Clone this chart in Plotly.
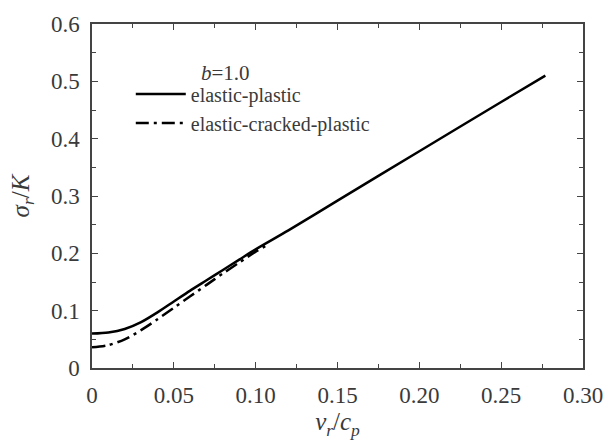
import plotly.graph_objects as go

# elastic-plastic curve
x_ep = [0.0, 0.01, 0.02, 0.03, 0.04, 0.05, 0.06, 0.07, 0.08, 0.09, 0.10, 0.12, 0.15, 0.20, 0.25, 0.277]
y_ep = [0.060, 0.062, 0.068, 0.080, 0.097, 0.116, 0.135, 0.153, 0.171, 0.189, 0.207, 0.240, 0.292, 0.378, 0.464, 0.510]

# elastic-cracked-plastic curve
x_ecp = [0.0, 0.01, 0.02, 0.03, 0.04, 0.05, 0.06, 0.07, 0.08, 0.09, 0.10, 0.108]
y_ecp = [0.036, 0.040, 0.050, 0.066, 0.085, 0.105, 0.125, 0.145, 0.165, 0.184, 0.203, 0.216]

x_ticks = [0, 0.05, 0.10, 0.15, 0.20, 0.25, 0.30]
x_tick_labels = ["0", "0.05", "0.10", "0.15", "0.20", "0.25", "0.30"]
y_ticks = [0, 0.1, 0.2, 0.3, 0.4, 0.5, 0.6]
y_tick_labels = ["0", "0.1", "0.2", "0.3", "0.4", "0.5", "0.6"]

FONT = "Liberation Serif"
TXT = "#3a3a3a"

fig = go.Figure()
fig.add_trace(go.Scatter(x=x_ep, y=y_ep, mode="lines", name="elastic-plastic",
                         line=dict(color="black", width=2.5, shape="spline", smoothing=0.8)))
fig.add_trace(go.Scatter(x=x_ecp, y=y_ecp, mode="lines", name="elastic-cracked-plastic",
                         line=dict(color="black", width=2.5, dash="13px,5px,3px,5px", shape="spline", smoothing=0.8)))

axis_common = dict(
    showgrid=False, zeroline=False, showline=True, linecolor="#444", linewidth=1.5,
    mirror="ticks", ticks="inside", ticklen=6, tickwidth=1.2, tickcolor="#444",
    tickfont=dict(family=FONT, size=23, color=TXT),
    ticklabelstandoff=6,
)

fig.update_xaxes(range=[0, 0.30], tickvals=x_ticks, ticktext=x_tick_labels,
                 title=dict(text="<i>v<sub>r</sub></i>/<i>c<sub>p</sub></i>",
                            font=dict(family=FONT, size=25, color=TXT), standoff=2),
                 minor=dict(ticks="inside", ticklen=4, tickcolor="#444", dtick=0.025),
                 **axis_common)
fig.update_yaxes(range=[0, 0.6], tickvals=y_ticks, ticktext=y_tick_labels,
                 title=dict(text="<i>σ<sub>r</sub></i>/<i>K</i>",
                            font=dict(family=FONT, size=25, color=TXT), standoff=14),
                 minor=dict(ticks="inside", ticklen=4, tickcolor="#444", dtick=0.05),
                 **axis_common)

fig.add_annotation(xref="paper", yref="paper", x=0.218, y=(370 - 66) / 354, xanchor="left", yanchor="middle",
                   text="<i>b</i>=1.0", showarrow=False,
                   font=dict(family=FONT, size=21, color=TXT))

fig.update_layout(
    width=615, height=440,
    margin=dict(l=92, r=27, t=16, b=70),
    plot_bgcolor="white", paper_bgcolor="white",
    font=dict(family=FONT),
    showlegend=True,
    legend=dict(x=0.079, y=(370 - 68) / 354, xanchor="left", yanchor="top",
                font=dict(family=FONT, size=20, color=TXT),
                bgcolor="rgba(0,0,0,0)", tracegroupgap=0, itemwidth=50),
)

fig.write_html("out.html")
